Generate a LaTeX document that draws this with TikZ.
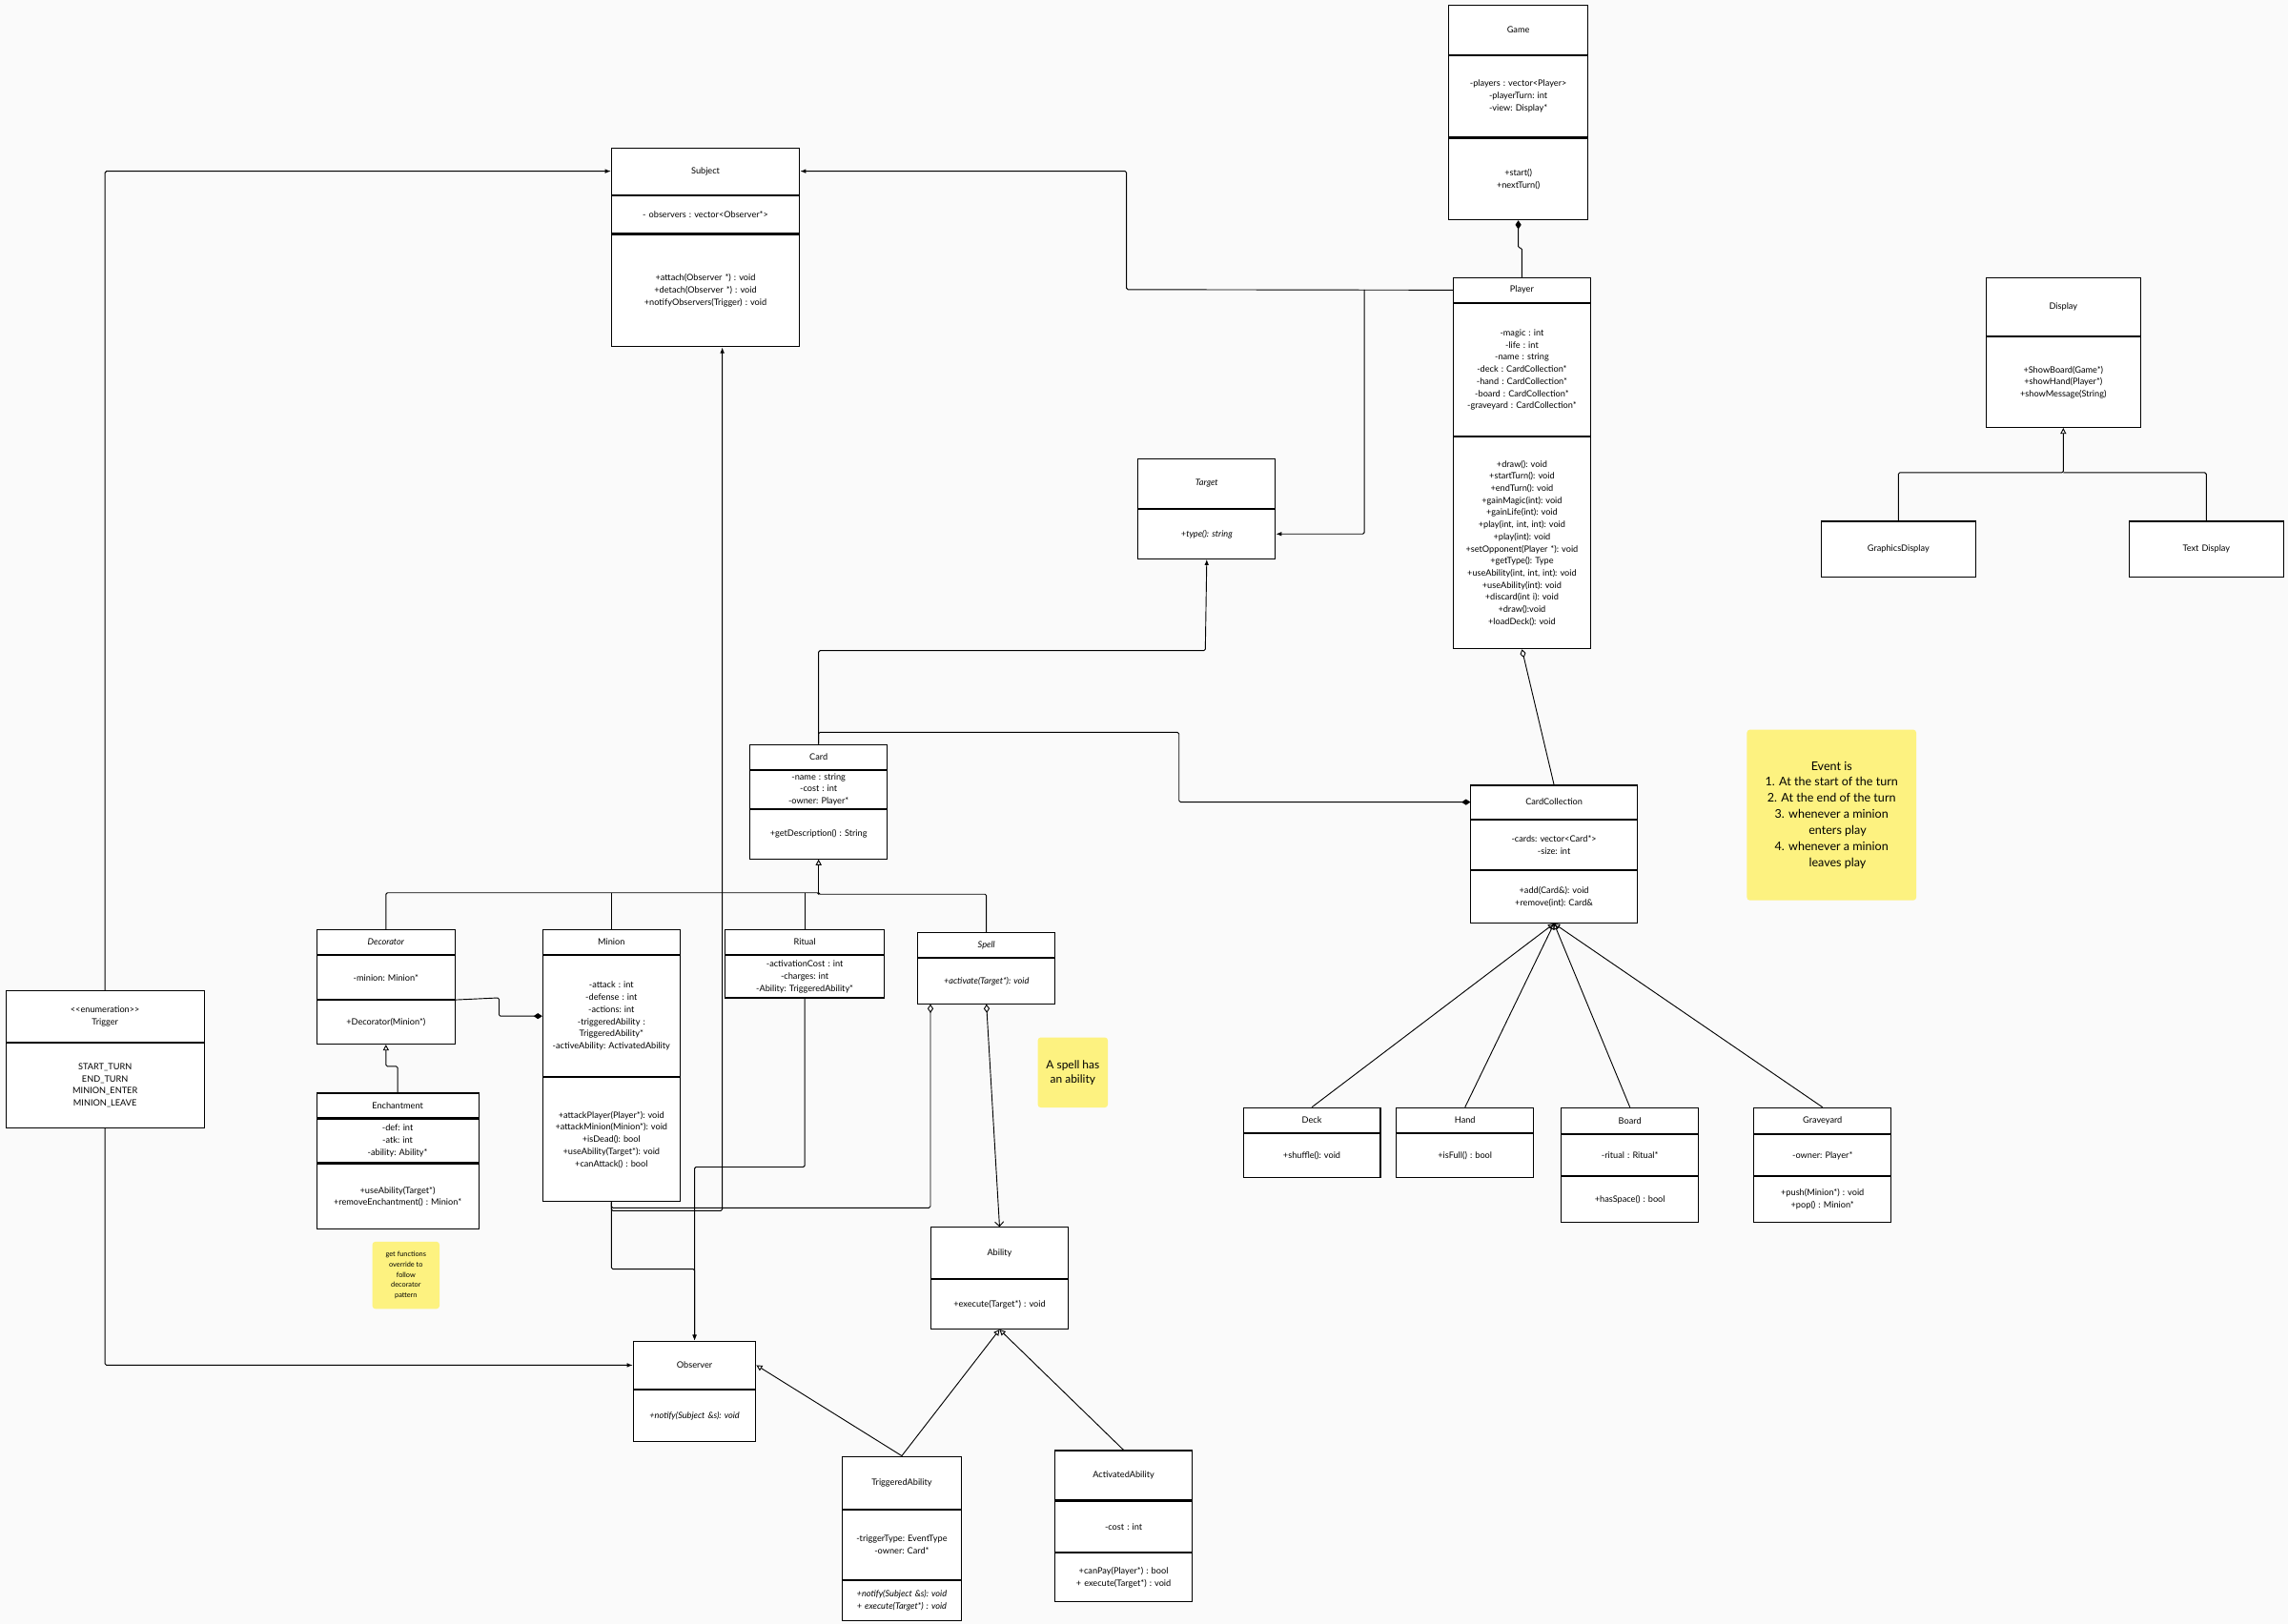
\documentclass[tikz,border=0pt]{standalone}
\usepackage{fontspec}
\setmainfont{Lato}
\usetikzlibrary{arrows.meta,calc}
\newcommand{\umlfont}{\frenchspacing\fontsize{6}{8.3}\selectfont}
\definecolor{notey}{RGB}{253,242,128}
\tikzset{
	cls/.style={draw, fill=white, line width=0.7pt, align=center, inner xsep=1pt, inner ysep=0pt, font=\umlfont, anchor=north},
	note/.style={fill=notey, rounded corners=2pt, align=center, inner sep=0pt, anchor=north west},
	conn/.style={line width=0.6pt, rounded corners=1pt},
	fil/.style={-{Latex[length=4pt,width=3pt]}},
	inh/.style={-{Triangle[open,length=4pt,width=4pt]}},
	comp/.style={-{Diamond[length=6pt,width=4pt]}},
	aggr/.style={-{Diamond[open,length=6pt,width=4pt]}}
}
\begin{document}
\begin{tikzpicture}[x=1pt,y=-1pt]
	\fill[black!2] (0,0) rectangle (1568,1113);
	\useasboundingbox (0,0) rectangle (1568,1113);

	% game and player
	\node (game)[cls, text width=93pt, minimum height=34pt] at (1040.5,3) {Game};
	\node (game-a)[cls, text width=93pt, minimum height=56pt] at (game.south) {-players : vector<Player>\\-playerTurn: int\\-view: Display*\\[12pt]};
	\node (game-b)[cls, text width=93pt, minimum height=56pt] at (game-a.south) {+start()\\+nextTurn()};
	\node (ply)[cls, text width=92pt, minimum height=17pt] at (1043,190) {Player};
	\node (ply-a)[cls, text width=92pt, minimum height=91pt] at (ply.south) {-magic : int\\-life : int\\-name : string\\-deck : CardCollection*\\-hand : CardCollection*\\-board : CardCollection*\\-graveyard : CardCollection*\\[28pt]};
	\node (ply-b)[cls, text width=92pt, minimum height=145pt] at (ply-a.south) {+draw(): void\\+startTurn(): void\\+endTurn(): void\\+gainMagic(int): void\\+gainLife(int): void\\+play(int, int, int): void\\+play(int): void\\+setOpponent(Player *): void\\+getType(): Type\\+useAbility(int, int, int): void\\+useAbility(int): void\\+discard(int i): void\\+draw():void\\+loadDeck(): void\\[34pt]};

	% display
	\node (disp)[cls, text width=104pt, minimum height=40pt] at (1414,190) {Display};
	\node (disp-a)[cls, text width=104pt, minimum height=62pt] at (disp.south) {+ShowBoard(Game*)\\+showHand(Player*)\\+showMessage(String)\\[6pt]};
	\node (gfx)[cls, text width=104pt, minimum height=38pt] at (1301,357) {GraphicsDisplay};
	\node (txt)[cls, text width=104pt, minimum height=38pt] at (1512,357) {Text Display};

	% subject and target
	\node (subj)[cls, text width=127pt, minimum height=32pt] at (483.5,101) {Subject};
	\node (subj-a)[cls, text width=127pt, minimum height=26pt] at (subj.south) {- observers : vector<Observer*>};
	\node (subj-b)[cls, text width=127pt, minimum height=77pt] at (subj-a.south) {+attach(Observer *) : void\\+detach(Observer *) : void\\+notifyObservers(Trigger) : void};
	\node (tgt)[cls, text width=92pt, minimum height=34pt] at (827,314) {\itshape Target};
	\node (tgt-a)[cls, text width=92pt, minimum height=34pt] at (tgt.south) {\itshape +type(): string};

	% cards
	\node (card)[cls, text width=92pt, minimum height=17pt] at (561,510) {Card};
	\node (card-a)[cls, text width=92pt, minimum height=26pt] at (card.south) {-name : string\\-cost : int\\-owner: Player*};
	\node (card-b)[cls, text width=92pt, minimum height=34pt] at (card-a.south) {+getDescription() : String\\[10pt]};
	\node (cc)[cls, text width=112pt, minimum height=23pt] at (1065,538) {CardCollection};
	\node (cc-a)[cls, text width=112pt, minimum height=34pt] at (cc.south) {-cards: vector<Card*>\\-size: int\\[10pt]};
	\node (cc-b)[cls, text width=112pt, minimum height=36pt] at (cc-a.south) {+add(Card\&): void\\+remove(int): Card\&\\[12pt]};
	\node (dec)[cls, text width=93pt, minimum height=17pt] at (264.5,637) {\itshape Decorator};
	\node (dec-a)[cls, text width=93pt, minimum height=30pt] at (dec.south) {-minion: Minion*};
	\node (dec-b)[cls, text width=93pt, minimum height=30pt] at (dec-a.south) {+Decorator(Minion*)};
	\node (min)[cls, text width=92pt, minimum height=17pt] at (419,637) {Minion};
	\node (min-a)[cls, text width=92pt, minimum height=83pt] at (min.south) {-attack : int\\-defense : int\\-actions: int\\-triggeredAbility :\\TriggeredAbility*\\-activeAbility: ActivatedAbility\\[6pt]};
	\node (min-b)[cls, text width=92pt, minimum height=85pt] at (min-a.south) {+attackPlayer(Player*): void\\+attackMinion(Minion*): void\\+isDead(): bool\\+useAbility(Target*): void\\+canAttack() : bool\\[26pt]};
	\node (rit)[cls, text width=107pt, minimum height=17pt] at (551.5,637) {Ritual};
	\node (rit-a)[cls, text width=107pt, minimum height=29pt] at (rit.south) {-activationCost : int\\-charges: int\\-Ability: TriggeredAbility*};
	\node (spell)[cls, text width=92pt, minimum height=17pt] at (676,639) {\itshape Spell};
	\node (spell-a)[cls, text width=92pt, minimum height=31pt] at (spell.south) {\itshape +activate(Target*): void\\[10pt]};
	\node (ench)[cls, text width=109pt, minimum height=17pt] at (272.5,749) {Enchantment};
	\node (ench-a)[cls, text width=109pt, minimum height=30pt] at (ench.south) {-def: int\\-atk: int\\-ability: Ability*};
	\node (ench-b)[cls, text width=109pt, minimum height=45pt] at (ench-a.south) {+useAbility(Target*)\\+removeEnchantment() : Minion*\\[12pt]};
	\node (trig)[cls, text width=134pt, minimum height=35pt] at (72,679) {{<}{<}enumeration{>}{>}\\Trigger};
	\node (trig-a)[cls, text width=134pt, minimum height=58pt] at (trig.south) {START\_TURN\\END\_TURN\\MINION\_ENTER\\MINION\_LEAVE};

	% card collections
	\node (deck)[cls, text width=92pt, minimum height=17pt] at (899,759) {Deck};
	\node (deck-a)[cls, text width=92pt, minimum height=30pt] at (deck.south) {+shuffle(): void\\[10pt]};
	\node (hand)[cls, text width=92pt, minimum height=17pt] at (1004,759) {Hand};
	\node (hand-a)[cls, text width=92pt, minimum height=30pt] at (hand.south) {+isFull() : bool\\[10pt]};
	\node (brd)[cls, text width=92pt, minimum height=18pt] at (1117,759) {Board};
	\node (brd-a)[cls, text width=92pt, minimum height=28pt] at (brd.south) {-ritual : Ritual*};
	\node (brd-b)[cls, text width=92pt, minimum height=31pt] at (brd-a.south) {+hasSpace() : bool\\[10pt]};
	\node (grave)[cls, text width=92pt, minimum height=18pt] at (1249,759) {Graveyard};
	\node (grave-a)[cls, text width=92pt, minimum height=28pt] at (grave.south) {-owner: Player*};
	\node (grave-b)[cls, text width=92pt, minimum height=31pt] at (grave-a.south) {+push(Minion*) : void\\+pop() : Minion*\\[10pt]};

	% abilities and observer
	\node (abil)[cls, text width=92pt, minimum height=35pt] at (685,841) {Ability};
	\node (abil-a)[cls, text width=92pt, minimum height=34pt] at (abil.south) {+execute(Target*) : void};
	\node (obs)[cls, text width=82pt, minimum height=33pt] at (476,919) {Observer};
	\node (obs-a)[cls, text width=82pt, minimum height=35pt] at (obs.south) {\itshape +notify(Subject \&s): void\\[10pt]};
	\node (tab)[cls, text width=80pt, minimum height=36pt] at (618,998) {TriggeredAbility};
	\node (tab-a)[cls, text width=80pt, minimum height=48pt] at (tab.south) {-triggerType: EventType\\-owner: Card*\\[6pt]};
	\node (tab-b)[cls, text width=80pt, minimum height=27pt] at (tab-a.south) {\itshape +notify(Subject \&s): void\\\itshape + execute(Target*) : void};
	\node (aab)[cls, text width=92pt, minimum height=34pt] at (770,994) {ActivatedAbility};
	\node (aab-a)[cls, text width=92pt, minimum height=35pt] at (aab.south) {-cost : int};
	\node (aab-b)[cls, text width=92pt, minimum height=33pt] at (aab-a.south) {+canPay(Player*) : bool\\+ execute(Target*) : void};

	% notes
	\node (ev)[note, minimum width=116pt, minimum height=117pt, font=\fontsize{8.2}{11}\selectfont] at (1197,500) {Event is\\1. At the start of the turn\\2. At the end of the turn\\3. whenever a minion\\\quad enters play\\4. whenever a minion\\\quad leaves play};
	\node (spn)[note, minimum width=48pt, minimum height=48pt, font=\fontsize{7.8}{10}\selectfont] at (711,711) {A spell has\\an ability};
	\node (gfn)[note, minimum width=46pt, minimum height=46pt, font=\fontsize{4.8}{7}\selectfont] at (255,851) {get functions\\override to\\follow\\decorator\\pattern};

	% connectors
	\draw[conn, fil] (trig.north) |- (subj.west);
	\draw[conn, fil] (trig-a.south) |- (obs.west);
	\draw[conn, fil] (ply.west) -- (772,198.5) |- (subj.east);
	\draw[conn, fil] (935,198.5) |- (tgt-a.east);
	\draw[conn, {Diamond[length=6pt,width=4pt]}-] (game-b.south) |- (1043,170) -- (ply.north);
	\draw[conn, {Triangle[open,length=4pt,width=4pt]}-] (disp-a.south) -- (1414,324) -| (gfx.north);
	\draw[conn] (1414,324) -| (txt.north);
	\draw[conn, {Diamond[open,length=6pt,width=4pt]}-] (ply-b.south) -- (cc.north);
	\draw[conn, comp] (card.north) |- (808,502) |- (cc.west);
	\draw[conn, fil] (card.north) |- (826,446) -- (tgt-a.south);
	\draw[conn, {Triangle[open,length=4pt,width=4pt]}-] (card-b.south) -- (561,612);
	\draw[conn] (dec.north) |- (561,612) -- (561,613) -| (spell.north);
	\draw[conn] (min.north) -- (419,612);
	\draw[conn] (rit.north) -- (551.5,612);
	\draw[conn, comp] (dec-a.south east) -- (342,684) |- (min-a.west);
	\draw[conn, inh] (ench.north) -- (272.5,731) -| (dec-b.south);
	\draw[conn, fil] (min-b.south) |- (495,830) -- ($(subj-b.south)+(11.5,0)$);
	\draw[conn, fil] (min-b.south) |- (476,870) -- (obs.north);
	\draw[conn, fil] (rit-a.south) |- (476,800) -- (obs.north);
	\draw[conn, {Diamond[open,length=6pt,width=4pt]}-] ($(spell-a.south west)+(9,0)$) |- (419,828) -- (min-b.south);
	\draw[conn, {Diamond[open,length=6pt,width=4pt]}-{Straight Barb[length=3pt]}] (spell-a.south) -- (abil.north);
	\draw[conn, inh] (tab.north) -- (obs.east);
	\draw[conn, inh] (tab.north) -- (abil-a.south);
	\draw[conn, inh] (aab.north) -- (abil-a.south);
	\foreach \n in {deck, hand, brd, grave}
		\draw[conn, inh] (\n.north) -- (cc-b.south);
\end{tikzpicture}
\end{document}
